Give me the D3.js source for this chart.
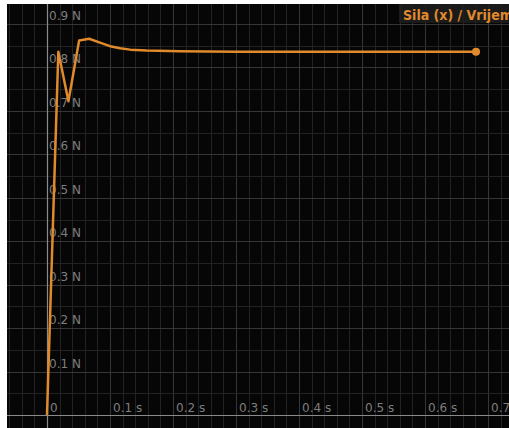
<!DOCTYPE html>
<html><head><meta charset="utf-8">
<script src="https://cdn.jsdelivr.net/npm/d3@7"></script>
<style>
html,body{margin:0;padding:0;background:#fff;}
svg{display:block;}
</style></head>
<body>
<script>
const time  = [0, 0.018, 0.034, 0.051, 0.067, 0.084, 0.100, 0.116, 0.132, 0.158, 0.211, 0.300, 0.400, 0.500, 0.600, 0.681];
const force = [0, 0.836, 0.722, 0.862, 0.866, 0.857, 0.849, 0.844, 0.841, 0.839, 0.837, 0.836, 0.836, 0.836, 0.836, 0.836];
const xTickValues = [0, 0.1, 0.2, 0.3, 0.4, 0.5, 0.6, 0.7];
const xTickLabels = ["0", "0.1 s", "0.2 s", "0.3 s", "0.4 s", "0.5 s", "0.6 s", "0.7"];
const yTickValues = [0.1, 0.2, 0.3, 0.4, 0.5, 0.6, 0.7, 0.8, 0.9];
const yTickLabels = ["0.1 N", "0.2 N", "0.3 N", "0.4 N", "0.5 N", "0.6 N", "0.7 N", "0.8 N", "0.9 N"];
const title = "Sila (x) / Vrijeme";

const W = 509, H = 428;
const svg = d3.select("body").append("svg").attr("width", W).attr("height", H);
svg.append("defs").append("clipPath").attr("id","clip")
  .append("rect").attr("x",7).attr("y",4).attr("width",W-7).attr("height",H-4);
const g = svg.append("g").attr("clip-path","url(#clip)");
g.append("rect").attr("x",7).attr("y",4).attr("width",W-7).attr("height",H-4).attr("fill","#060606");

const x = d3.scaleLinear().domain([0, 0.7]).range([47, 488]);
const y = d3.scaleLinear().domain([0, 0.9]).range([415, 24]);

// minor grid
const minorX = d3.range(-0.08, 0.76, 0.02).map(v => +v.toFixed(3));
const minorY = d3.range(-0.05, 1.0, 0.05).map(v => +v.toFixed(3));
const isMajor = v => Math.abs(v*10 - Math.round(v*10)) < 1e-6;
g.selectAll(".gx").data(minorX).join("line")
  .attr("x1", d => Math.round(x(d))+0.5).attr("x2", d => Math.round(x(d))+0.5)
  .attr("y1", 0).attr("y2", H)
  .attr("stroke", d => isMajor(d) ? "#363636" : "#222222").attr("stroke-width",1);
g.selectAll(".gy").data(minorY).join("line")
  .attr("y1", d => Math.round(y(d))+0.5).attr("y2", d => Math.round(y(d))+0.5)
  .attr("x1", 0).attr("x2", W)
  .attr("stroke", d => isMajor(d) ? "#363636" : "#222222").attr("stroke-width",1);

// axes lines
g.append("line").attr("x1", Math.round(x(0))+0.5).attr("x2", Math.round(x(0))+0.5)
  .attr("y1",0).attr("y2",H).attr("stroke","#8a8a8a").attr("stroke-width",1.2);
g.append("line").attr("y1", Math.round(y(0))+0.5).attr("y2", Math.round(y(0))+0.5)
  .attr("x1",0).attr("x2",W).attr("stroke","#8a8a8a").attr("stroke-width",1.2);

// tick labels
g.selectAll(".xl").data(xTickValues).join("text")
  .attr("x", d => x(d) + 3).attr("y", y(0) - 3)
  .attr("font-family","DejaVu Sans").attr("font-size",12).attr("fill","#7e7e7e")
  .text((d,i) => xTickLabels[i]);
g.selectAll(".yl").data(yTickValues).join("text")
  .attr("x", x(0) + 2).attr("y", d => y(d) - 4)
  .attr("font-family","DejaVu Sans").attr("font-size",12).attr("fill","#7e7e7e")
  .text((d,i) => yTickLabels[i]);

// line
const pts = time.map((t,i) => [t, force[i]]);
const line = d3.line().x(d => x(d[0])).y(d => y(d[1]));
g.append("path").datum(pts).attr("d", line).attr("fill","none")
  .attr("stroke","#e08a2c").attr("stroke-width",2.5).attr("stroke-linejoin","round");
const last = pts[pts.length-1];
g.append("circle").attr("cx", x(last[0])).attr("cy", y(last[1])).attr("r",4).attr("fill","#e08a2c");

// title box
g.append("rect").attr("x",399).attr("y",4).attr("width",W-399).attr("height",19)
  .attr("fill","rgba(30,30,30,0.85)");
g.append("text").attr("x",403).attr("y",20)
  .attr("font-family","DejaVu Sans Condensed, DejaVu Sans").attr("font-weight","bold")
  .attr("font-size",14).attr("fill","#e08a2c").text(title);
</script>
</body></html>
